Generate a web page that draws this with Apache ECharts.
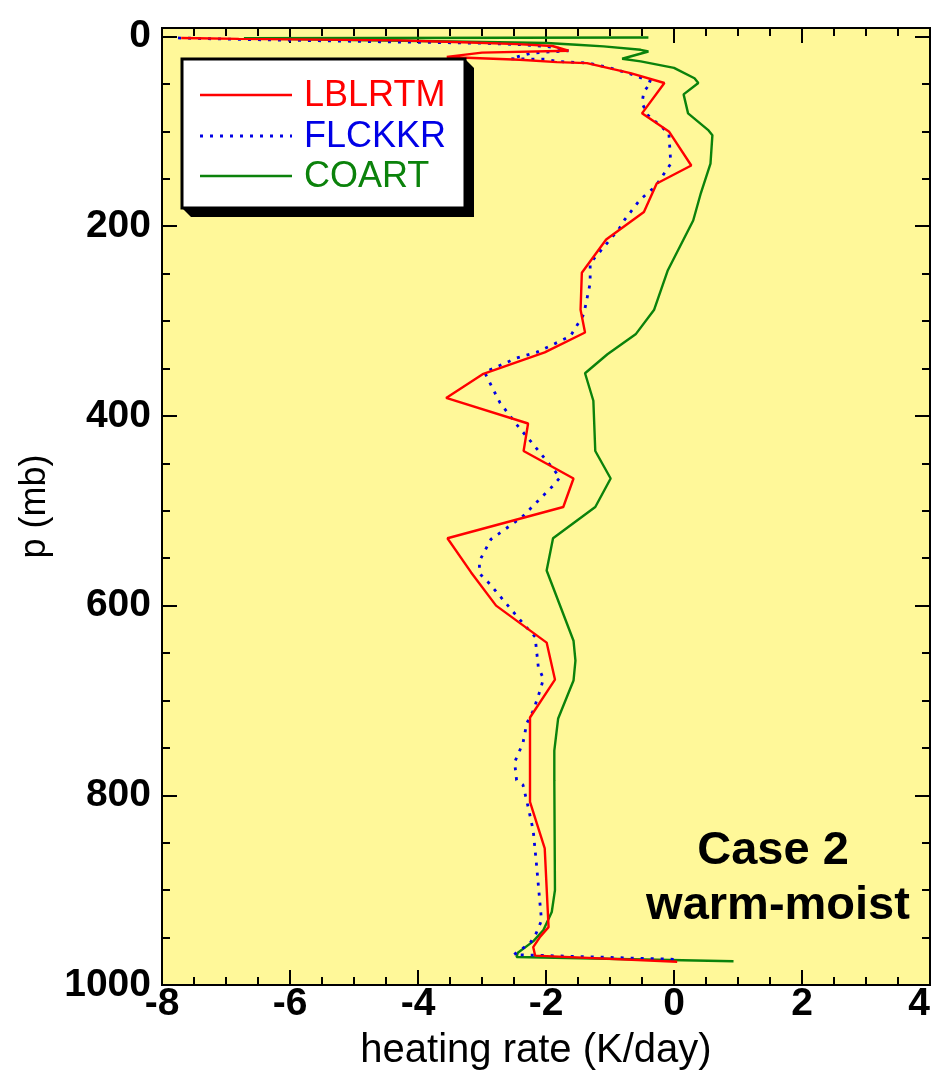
<!DOCTYPE html>
<html>
<head>
<meta charset="utf-8">
<script src="https://cdn.jsdelivr.net/npm/echarts@6/dist/echarts.min.js"></script>
<style>
html,body{margin:0;padding:0;background:#fff;}
#chart{width:932px;height:1078px;}
</style>
</head>
<body>
<div id="chart"></div>
<script>
// ---- data (pressure in mb, heating rate in K/day) ----
var lblrtmP = [1.5, 2.5, 4, 6, 8, 10, 15, 17, 21.5, 24.5, 27, 28, 38.5, 49, 81, 100, 136, 155, 185, 214, 249, 288, 312, 333, 356, 381, 408, 437, 466, 496, 529, 565, 600, 639, 678, 718, 807, 856, 939, 949, 960, 969, 975.5];
var lblrtmH = [-7.7, -6.8, -4.3, -3.3, -2.45, -1.9, -1.65, -3.0, -3.55, -2.41, -1.83, -1.36, -0.68, -0.15, -0.5, -0.08, 0.27, -0.27, -0.47, -1.06, -1.44, -1.46, -1.39, -2.02, -2.99, -3.56, -2.28, -2.35, -1.57, -1.73, -3.54, -3.17, -2.78, -1.99, -1.86, -2.25, -2.25, -2.02, -1.96, -2.09, -2.2, -2.17, 0.05];

var flckkrP = [1.5, 3, 5.5, 7, 8.6, 10.4, 12, 15, 17.5, 20, 23.4, 24, 26.2, 28, 33, 38.8, 47.6, 58, 70, 82.7, 102, 134, 158, 172, 193, 203, 239, 260, 293, 316, 333, 339, 354, 386, 409, 430, 454, 465, 475, 507, 530, 553, 566, 577, 598, 621, 633, 665, 677, 689, 711, 724, 745, 765, 784, 789, 812, 837, 872, 932, 945, 956, 968, 973];
var flckkrH = [-7.75, -6.8, -4.6, -3.0, -2.4, -2.0, -1.83, -1.65, -2.23, -2.38, -2.55, -2.0, -1.83, -1.33, -1.0, -0.71, -0.35, -0.47, -0.5, -0.41, -0.08, -0.05, -0.29, -0.53, -0.77, -0.86, -1.31, -1.31, -1.41, -1.62, -2.15, -2.46, -2.96, -2.72, -2.46, -2.2, -1.91, -1.78, -1.91, -2.38, -2.86, -3.04, -3.04, -2.88, -2.62, -2.33, -2.17, -2.12, -2.04, -2.09, -2.2, -2.3, -2.36, -2.49, -2.46, -2.36, -2.28, -2.2, -2.15, -2.07, -2.15, -2.25, -2.5, 0.05];

var coartP = [1.0, 1.8, 6.8, 8.6, 10.4, 14, 15.8, 23.4, 26.2, 33, 44, 49, 61, 81, 99, 104, 134, 165, 194, 247, 288, 314, 335, 355, 384, 437, 466, 496, 529, 563, 637, 658, 679, 719, 753, 784, 900, 923, 942, 954, 966, 970.5, 975];
var coartH = [-0.4, -6.72, -1.99, -1.52, -1.1, -0.52, -0.4, -0.81, -0.52, 0.0, 0.32, 0.38, 0.15, 0.22, 0.54, 0.6, 0.57, 0.42, 0.3, -0.1, -0.31, -0.6, -1.04, -1.39, -1.26, -1.23, -0.99, -1.23, -1.89, -1.99, -1.57, -1.54, -1.57, -1.81, -1.87, -1.87, -1.86, -1.91, -2.04, -2.2, -2.44, -2.46, 0.93];

var seriesNames = ['LBLRTM', 'FLCKKR', 'COART'];
var seriesColors = ['#ff0000', '#0000e6', '#0b820b'];

var yMajorTicks = [0, 200, 400, 600, 800, 1000];
var yMinorTicks = [50, 100, 150, 250, 300, 350, 450, 500, 550, 650, 700, 750, 850, 900, 950];

var caseLabel = ['Case 2', 'warm-moist'];
var xTitle = 'heating rate (K/day)';
var yTitle = 'p (mb)';

function pairs(h, p) { return h.map(function (v, i) { return [v, p[i]]; }); }

var FONT = '"Liberation Sans", Arial, Helvetica, sans-serif';
var chart = echarts.init(document.getElementById('chart'), null, { renderer: 'canvas' });

var Y_MIN = -9, Y_MAX = 1000;
var TICK_FONT = 39;
function yAx(pos, ticks, len, labels) {
  return {
    type: 'value', inverse: true, min: Y_MIN, max: Y_MAX, position: pos,
    axisLine: { show: false, onZero: false },
    splitLine: { show: false },
    axisTick: { show: true, inside: true, length: len, customValues: ticks, lineStyle: { color: '#000', width: 2 } },
    axisLabel: labels ? { show: true, customValues: yMajorTicks, formatter: function (v) { return String(v); },
      fontFamily: FONT, fontWeight: 'bold', fontSize: TICK_FONT, color: '#000', margin: 11 } : { show: false },
    name: labels ? yTitle : '', nameLocation: 'middle', nameGap: 104, nameRotate: 90,
    nameTextStyle: { fontFamily: FONT, fontSize: 36, color: '#000' }
  };
}
function xAx(pos, labels) {
  return {
    type: 'value', min: -8, max: 4, interval: 2, position: pos,
    axisLine: { show: false, onZero: false }, splitLine: { show: false },
    axisTick: { show: true, inside: true, length: 15, lineStyle: { color: '#000', width: 2 } },
    minorTick: { show: true, splitNumber: 4, length: 8, lineStyle: { color: '#000', width: 2 } },
    axisLabel: labels ? { show: true, fontFamily: FONT, fontWeight: 'bold', fontSize: TICK_FONT, color: '#000', margin: 0,
      alignMaxLabel: 'right' } : { show: false },
    name: labels ? xTitle : '', nameLocation: 'middle', nameGap: 46,
    nameTextStyle: { fontFamily: FONT, fontSize: 40, color: '#000', padding: [0, 20, 0, 0] }
  };
}

var dataSets = [pairs(lblrtmH, lblrtmP), pairs(flckkrH, flckkrP), pairs(coartH, coartP)];
var lineTypes = ['solid', [3, 7], 'solid'];
var lineWidths = [2.4, 2.8, 2.4];

// legend box (drawn as graphics)
var LB = { x: 182, y: 59, w: 283, h: 149, sh: 9 };
var legendRows = [95, 136, 176];
var graphics = [
  { type: 'polygon', silent: true, z: 50,
    shape: { points: [[LB.x + LB.w, LB.y], [LB.x + LB.w + LB.sh, LB.y + LB.sh], [LB.x + LB.w + LB.sh, LB.y + LB.h + LB.sh],
      [LB.x + LB.sh, LB.y + LB.h + LB.sh], [LB.x, LB.y + LB.h]] },
    style: { fill: '#000' } },
  { type: 'rect', silent: true, z: 51,
    shape: { x: LB.x, y: LB.y, width: LB.w, height: LB.h },
    style: { fill: '#fff', stroke: '#000', lineWidth: 3 } }
];
seriesNames.forEach(function (n, i) {
  graphics.push({ type: 'line', silent: true, z: 52,
    shape: { x1: 200, y1: legendRows[i], x2: 292, y2: legendRows[i] },
    style: { stroke: seriesColors[i], lineWidth: lineWidths[i], lineDash: lineTypes[i] === 'solid' ? null : lineTypes[i] } });
  graphics.push({ type: 'text', silent: true, z: 52,
    style: { text: n, x: 304, y: legendRows[i] + 1, textAlign: 'left', textVerticalAlign: 'middle', font: '36px ' + FONT, fill: seriesColors[i] } });
});
graphics.push({ type: 'text', silent: true, z: 52,
  style: { text: caseLabel[0], x: 773, y: 851, textAlign: 'center', textVerticalAlign: 'middle', font: 'bold 47px ' + FONT, fill: '#000' } });
graphics.push({ type: 'text', silent: true, z: 52,
  style: { text: caseLabel[1], x: 778, y: 906, textAlign: 'center', textVerticalAlign: 'middle', font: 'bold 47px ' + FONT, fill: '#000' } });

var option = {
  animation: false,
  backgroundColor: '#ffffff',
  grid: { left: 162, right: 2, top: 28, bottom: 93, containLabel: false, outerBoundsMode: 'none',
    show: true, backgroundColor: '#fff899', borderColor: '#000', borderWidth: 2 },
  xAxis: [xAx('bottom', true), xAx('top', false)],
  yAxis: [yAx('left', yMajorTicks, 15, true), yAx('left', yMinorTicks, 8, false), yAx('right', yMajorTicks, 15, false), yAx('right', yMinorTicks, 8, false)],
  graphic: graphics,
  series: seriesNames.map(function (n, i) {
    return {
      name: n, type: 'line', data: dataSets[i], xAxisIndex: 0, yAxisIndex: 0,
      showSymbol: false, symbol: 'none', clip: true, z: 3 - i,
      lineStyle: { color: seriesColors[i], width: lineWidths[i], type: lineTypes[i] },
      itemStyle: { color: seriesColors[i] }
    };
  })
};
chart.setOption(option);
</script>
</body>
</html>
